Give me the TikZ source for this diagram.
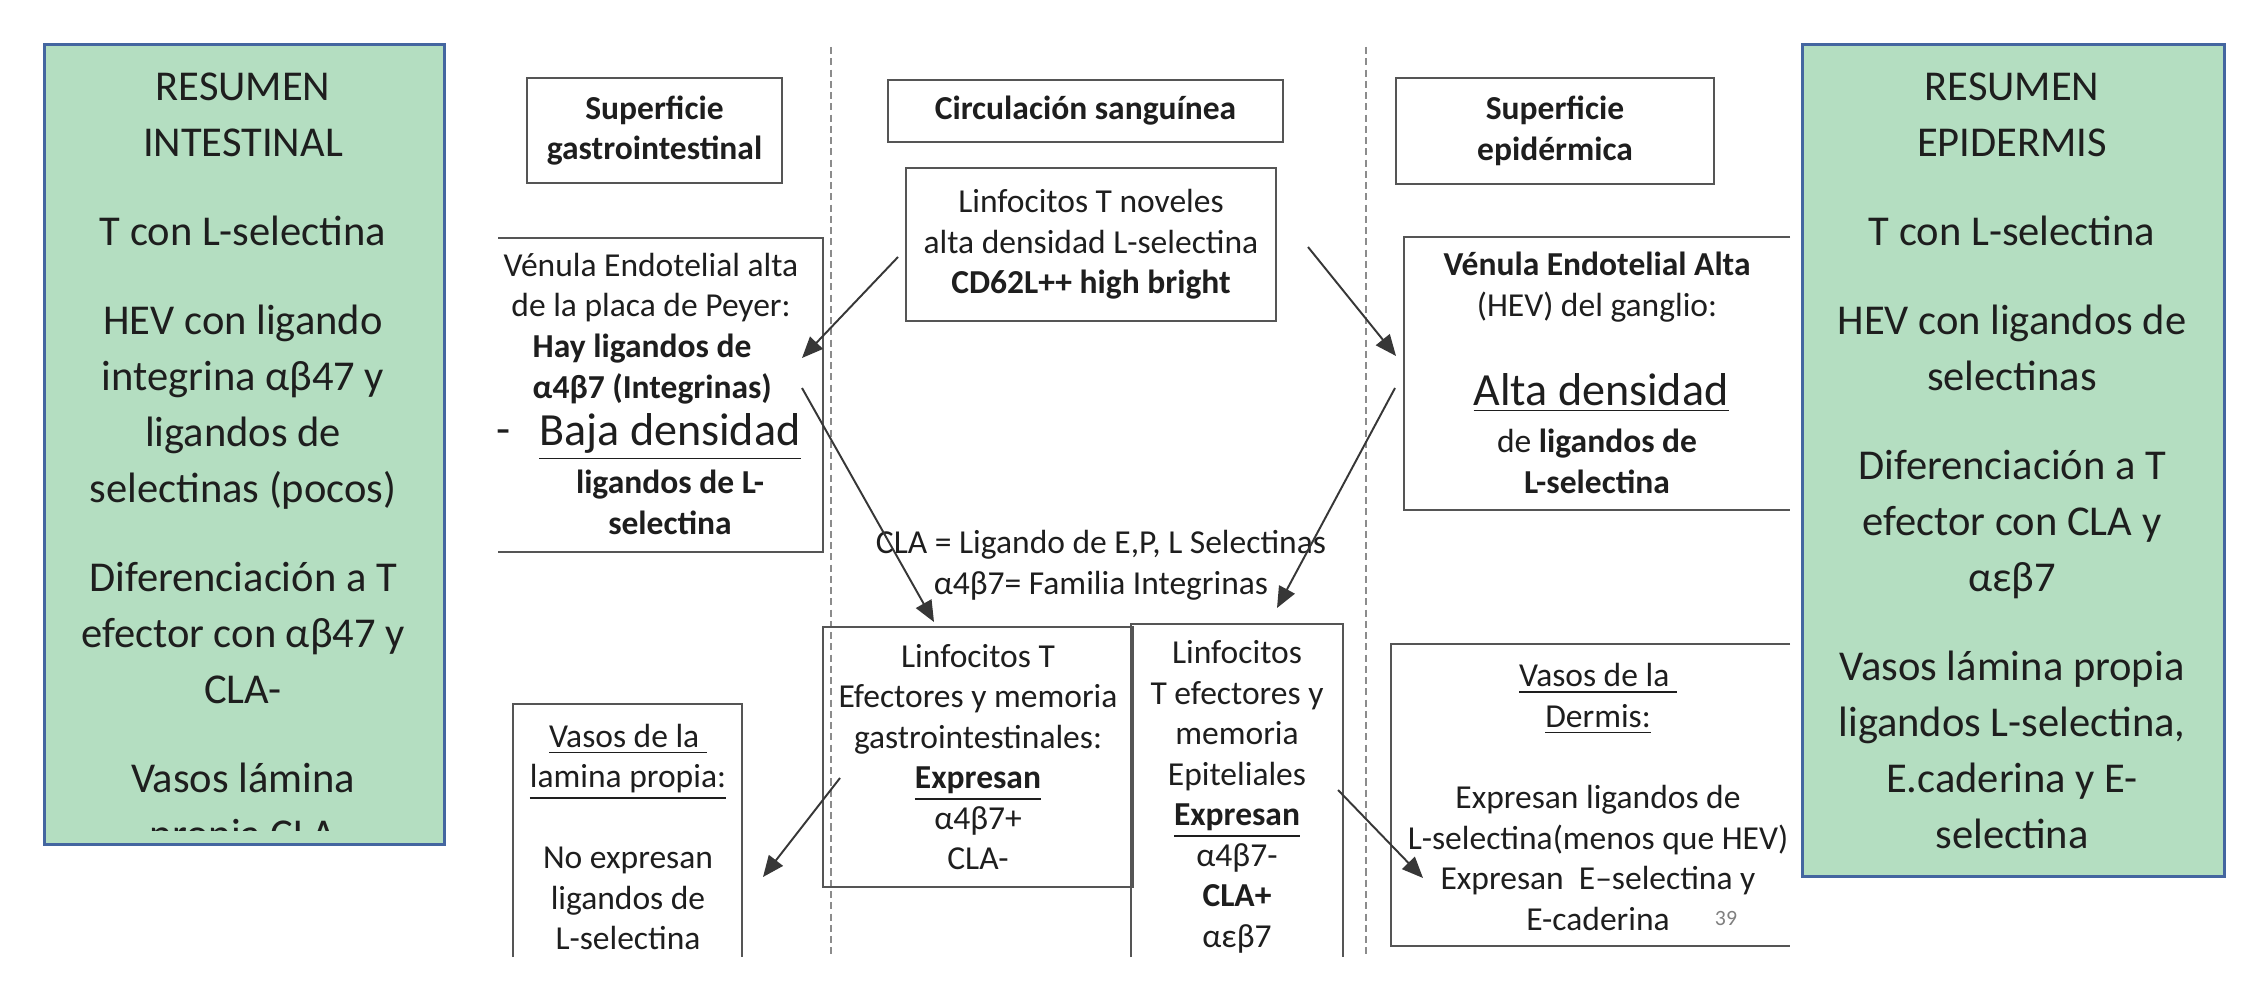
\documentclass[tikz,border=0pt]{standalone}
\usepackage{fontspec}
\setmainfont{Carlito}
\usetikzlibrary{arrows.meta}
\definecolor{gfill}{RGB}{180,222,193}
\definecolor{gborder}{RGB}{68,102,160}
\definecolor{ink}{RGB}{30,30,30}
\definecolor{boxline}{RGB}{85,85,85}
\definecolor{dashc}{RGB}{140,140,140}
\definecolor{arrowc}{RGB}{55,55,55}
\begin{document}
\begin{tikzpicture}[x=0.01cm,y=-0.01cm,
  body/.style={inner sep=0pt, align=center, text=ink, font=\fontsize{9.53pt}{11.52pt}\selectfont},
  bigtext/.style={inner sep=0pt, text=ink, font=\fontsize{13.1pt}{15pt}\selectfont},
  greentext/.style={inner sep=0pt, align=center, text=ink, font=\fontsize{12.09pt}{15.93pt}\selectfont},
  frame/.style={draw=boxline, line width=0.7pt},
  tbox/.style={frame, inner sep=0pt, align=center, text=ink, font=\fontsize{9.53pt}{11.52pt}\selectfont},
  gbox/.style={fill=gfill, draw=gborder, line width=0.85pt, inner sep=0pt, anchor=north west},
  sep/.style={draw=dashc, line width=0.55pt, dash pattern=on 2pt off 1.2pt},
  arr/.style={draw=arrowc, line width=0.55pt, -{Triangle[length=6pt,width=5pt]}}
]
\useasboundingbox[fill=white] (0,0) rectangle (2252,982);

% dashed separators
\coordinate (d1t) at (831,47); \coordinate (d1b) at (831,957);
\coordinate (d2t) at (1366,47); \coordinate (d2b) at (1366,957);
\draw[sep] (d1t) -- (d1b);
\draw[sep] (d2t) -- (d2b);

% summary boxes
\node[gbox, minimum width=4cm, minimum height=8cm] (gl) at (43,43) {};
\begin{scope}
\clip (46,46) rectangle (440,830);
\node[greentext, anchor=north] (gltext) at (243,72) {RESUMEN\\INTESTINAL\\[9.4pt]T con L-selectina\\[9.4pt]HEV con ligando\\integrina αβ47 y\\ligandos de\\selectinas (pocos)\\[9.4pt]Diferenciación a T\\efector con αβ47 y\\CLA-\\[9.4pt]Vasos lámina\\propia CLA};
\end{scope}

\node[gbox, minimum width=4.22cm, minimum height=8.32cm] (gr) at (1801,43) {};
\node[greentext, anchor=north] (grtext) at (2012,72) {RESUMEN\\EPIDERMIS\\[9.4pt]T con L-selectina\\[9.4pt]HEV con ligandos de\\selectinas\\[9.4pt]Diferenciación a T\\efector con CLA y\\αεβ7\\[9.4pt]Vasos lámina propia\\ligandos L-selectina,\\E.caderina y E-\\selectina};

% header boxes
\node[tbox, minimum width=2.55cm, minimum height=1.05cm] (sgi) at (654.5,130.5) {\textbf{Superficie}\\\textbf{gastrointestinal}};
\node[tbox, minimum width=3.95cm, minimum height=0.62cm] (circ) at (1085.5,111) {\textbf{Circulación sanguínea}};
\node[tbox, minimum width=3.18cm, minimum height=1.06cm] (sep) at (1555,131) {\textbf{Superficie}\\\textbf{epidérmica}};

% naive T cells
\node[tbox, minimum width=3.7cm, minimum height=1.53cm] (nov) at (1091,244.5) {Linfocitos T noveles\\alta densidad L-selectina\\\textbf{CD62L++ high bright}};

% left HEV (open on the left)
\coordinate (lv1) at (498,238); \coordinate (lv2) at (823,238);
\coordinate (lv3) at (823,552); \coordinate (lv4) at (498,552);
\draw[frame] (lv1) -- (lv2) -- (lv3) -- (lv4);
\node[body] (lva) at (651,287.5) {Vénula Endotelial alta\\de la placa de Peyer:};
\node[body, align=left, anchor=west] (lvb) at (532,369) {\textbf{Hay ligandos de}\\\textbf{α4β7 (Integrinas)}};
\node[bigtext] (lvdash) at (504,437) {-};
\node[bigtext] (lvbaja) at (670,437) {\underline{Baja densidad}};
\node[body] (lvc) at (670,502.5) {\textbf{ligandos de L-}\\\textbf{selectina}};

% right HEV (open on the right)
\coordinate (rv1) at (1790,237); \coordinate (rv2) at (1404,237);
\coordinate (rv3) at (1404,510); \coordinate (rv4) at (1790,510);
\draw[frame] (rv1) -- (rv2) -- (rv3) -- (rv4);
\node[body] (rva) at (1597,287) {\textbf{Vénula Endotelial Alta}\\(HEV) del ganglio:};
\node[bigtext] (rvalta) at (1601,393) {\underline{Alta densidad}};
\node[body] (rvb) at (1597,461.5) {de \textbf{ligandos de}\\\textbf{L-selectina}};

% legend
\node[body] (legend) at (1101,565) {CLA = Ligando de E,P, L Selectinas\\α4β7= Familia Integrinas};

% effector boxes
\node[tbox, minimum width=3.1cm, minimum height=2.6cm] (efg) at (978,757) {Linfocitos T\\Efectores y memoria\\gastrointestinales:\\\textbf{\underline{Expresan}}\\α4β7+\\CLA-};

\coordinate (ep1) at (1131,957); \coordinate (ep2) at (1131,624);
\coordinate (ep3) at (1343,624); \coordinate (ep4) at (1343,957);
\draw[frame] (ep1) -- (ep2) -- (ep3) -- (ep4);
\node[body] (epi) at (1237,797) {Linfocitos\\T efectores y\\memoria\\Epiteliales\\\textbf{\underline{Expresan}}\\α4β7-\\\textbf{CLA+}\\αεβ7};

% lamina propia vessels (open at the bottom)
\coordinate (lp1) at (513,957); \coordinate (lp2) at (513,704);
\coordinate (lp3) at (742,704); \coordinate (lp4) at (742,957);
\draw[frame] (lp1) -- (lp2) -- (lp3) -- (lp4);
\node[body] (lpt) at (628,837) {\underline{Vasos de la\ }\\\underline{lamina propia:}\\[11.52pt]No expresan\\ligandos de\\L-selectina};

% dermis vessels (open on the right)
\coordinate (dm1) at (1790,644); \coordinate (dm2) at (1391,644);
\coordinate (dm3) at (1391,946); \coordinate (dm4) at (1790,946);
\draw[frame] (dm1) -- (dm2) -- (dm3) -- (dm4);
\node[body] (dmt) at (1598,797) {\underline{Vasos de la\ }\\\underline{Dermis:}\\[11.52pt]Expresan ligandos de\\L-selectina(menos que HEV)\\Expresan~~E–selectina y\\E-caderina};
\node[inner sep=0pt, text=gray, font=\fontsize{6.2pt}{7pt}\selectfont] (pg) at (1726,918) {39};

% arrows
\coordinate (a1s) at (898,257);  \coordinate (a1e) at (802,358);
\coordinate (a2s) at (1308,247); \coordinate (a2e) at (1396,356);
\coordinate (a3s) at (802,388);  \coordinate (a3e) at (934,622);
\coordinate (a4s) at (1395,388); \coordinate (a4e) at (1277,608);
\coordinate (a5s) at (840,778);  \coordinate (a5e) at (763,877);
\coordinate (a6s) at (1338,790); \coordinate (a6e) at (1423,878);
\draw[arr] (a1s) -- (a1e);
\draw[arr] (a2s) -- (a2e);
\draw[arr] (a3s) -- (a3e);
\draw[arr] (a4s) -- (a4e);
\draw[arr] (a5s) -- (a5e);
\draw[arr] (a6s) -- (a6e);
\end{tikzpicture}
\end{document}
